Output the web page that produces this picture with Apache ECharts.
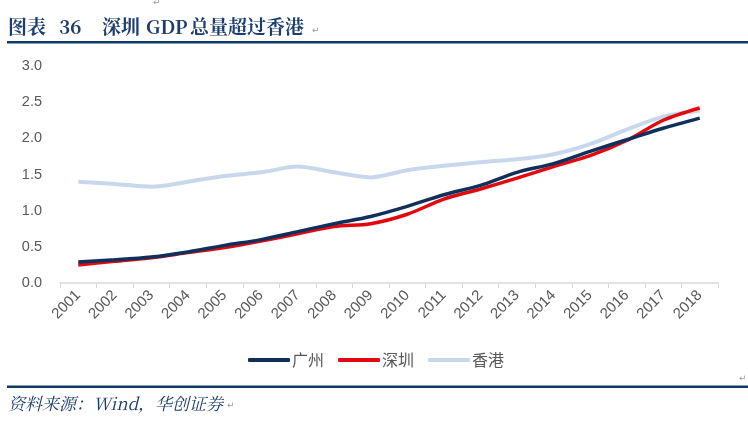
<!DOCTYPE html>
<html><head><meta charset="utf-8">
<script src="https://cdn.jsdelivr.net/npm/echarts@6/dist/echarts.min.js"></script>
<style>html,body{margin:0;padding:0;background:#fff}#c{width:748px;height:437px}</style>
</head><body><div id="c"></div>
<script>
const years = ['2001','2002','2003','2004','2005','2006','2007','2008','2009','2010','2011','2012','2013','2014','2015','2016','2017','2018'];
const guangzhou = [0.29,0.32,0.36,0.43,0.52,0.60,0.71,0.82,0.92,1.06,1.22,1.35,1.53,1.65,1.82,1.98,2.14,2.28];
const shenzhen  = [0.25,0.30,0.35,0.42,0.49,0.58,0.68,0.78,0.82,0.95,1.16,1.30,1.45,1.61,1.76,1.97,2.25,2.42];
const hongkong  = [1.40,1.37,1.33,1.40,1.48,1.53,1.61,1.53,1.46,1.56,1.62,1.67,1.71,1.78,1.92,2.12,2.30,2.38];
const yTicks = [0,0.5,1,1.5,2,2.5,3];
const navy='#10305c', red='#e3080e', light='#c8d8ec';
const chart = echarts.init(document.getElementById('c'));
const txtFont = '"Noto Sans CJK SC", "Liberation Sans", sans-serif';
const tFont = 'bold 19px "Noto Serif CJK SC","Noto Sans CJK SC","Liberation Serif",serif';
const tCol = '#1b3c6e';
function T(x, s){ return {type:'text',x:x,y:27,style:{text:s,fill:tCol,font:tFont,verticalAlign:'middle'}}; }
chart.setOption({
  animation:false,
  backgroundColor:'#fff',
  grid:{left:60,right:30,top:66,bottom:154},
  xAxis:{type:'category',data:years,boundaryGap:true,
    axisLine:{lineStyle:{color:'#d9d9d9',width:1.5}},
    axisTick:{show:true,length:5,lineStyle:{color:'#d9d9d9'}},
    axisLabel:{rotate:45,color:'#595959',fontSize:15,fontFamily:'Liberation Sans',margin:10}},
  yAxis:{type:'value',min:yTicks[0],max:yTicks[yTicks.length-1],interval:0.5,
    splitLine:{show:false},axisLine:{show:false},axisTick:{show:false},
    axisLabel:{color:'#595959',fontSize:14.5,fontFamily:'Liberation Sans',margin:18,formatter:v=>v.toFixed(1)}},
  legend:{top:347,left:243,itemWidth:42,itemHeight:4,itemGap:14,icon:'roundRect',
    textStyle:{color:'#595959',fontSize:16,fontFamily:txtFont,padding:[0,0,0,-3]},
    data:['广州','深圳','香港']},
  series:[
    {name:'香港',type:'line',data:hongkong,smooth:0.3,symbol:'none',z:1,lineStyle:{color:light,width:4},itemStyle:{color:light}},
    {name:'深圳',type:'line',data:shenzhen,smooth:0.3,symbol:'none',z:2,lineStyle:{color:red,width:3.5},itemStyle:{color:red}},
    {name:'广州',type:'line',data:guangzhou,smooth:0.3,symbol:'none',z:3,lineStyle:{color:navy,width:3.5},itemStyle:{color:navy}}
  ],
  graphic:[
    T(8,'图表'), T(59,'36'), T(102,'深圳'), T(146,'GDP'), T(190,'总量超过香港'),
    {type:'text',x:312,y:26,style:{text:'↵',fill:'#999',font:'9px "DejaVu Sans"'}},
    {type:'text',x:153,y:-2,style:{text:'↵',fill:'#999',font:'9px "DejaVu Sans"'}},
    {type:'rect',shape:{x:7,y:41,width:741,height:2.5},style:{fill:'#0e3a66'}},
    {type:'rect',shape:{x:7,y:385.5,width:741,height:2.5},style:{fill:'#0e3a66'}},
    {type:'text',x:739,y:374,style:{text:'↵',fill:'#999',font:'9px "DejaVu Sans"'}},
    {type:'text',x:8,y:404,style:{text:'资料来源：Wind，华创证券',fill:tCol,verticalAlign:'middle',font:'italic 17px "Noto Serif CJK SC","Noto Sans CJK SC","Liberation Serif",serif'}},
    {type:'text',x:227,y:401,style:{text:'↵',fill:'#999',font:'9px "DejaVu Sans"'}}
  ]
});
</script></body></html>
